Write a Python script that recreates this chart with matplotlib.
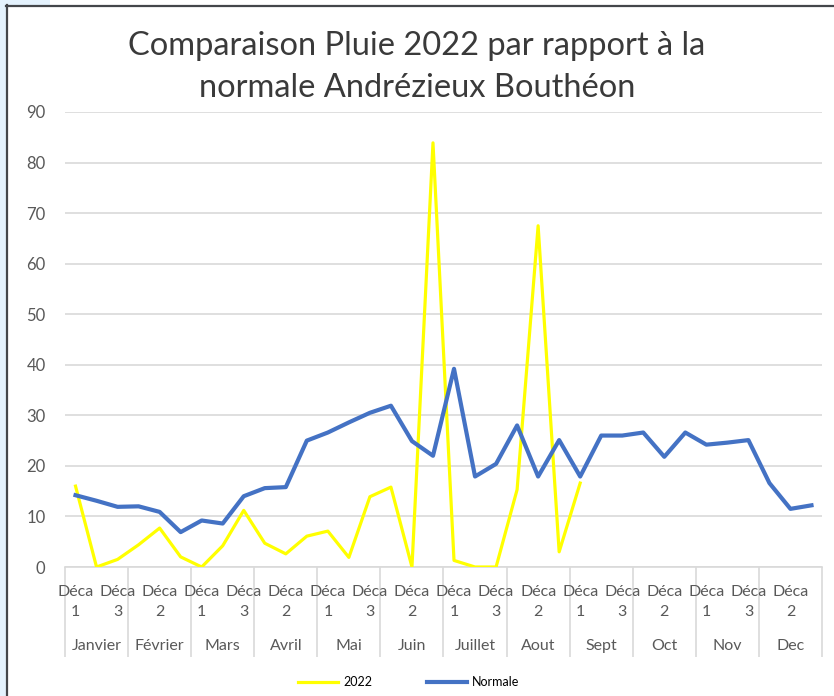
import matplotlib
matplotlib.use("Agg")
import matplotlib.pyplot as plt
from matplotlib.patches import Rectangle
from matplotlib.lines import Line2D
import numpy as np

plt.rcParams['font.family'] = ['Lato', 'DejaVu Sans']

# Data
months = ["Janvier", "Février", "Mars", "Avril", "Mai", "Juin",
          "Juillet", "Aout", "Sept", "Oct", "Nov", "Dec"]
decades = ["1", "2", "3"]

pluie_2022 = [16.0, 0.0, 1.5, 4.4, 7.7, 2.0, 0.0, 4.2, 11.2, 4.7, 2.6, 6.1,
              7.1, 1.9, 13.9, 15.8, 0.0, 83.9, 1.3, 0.0, 0.0, 15.3, 67.5, 3.0,
              16.6, np.nan, np.nan, np.nan, np.nan, np.nan, np.nan, np.nan,
              np.nan, np.nan, np.nan, np.nan]
normale = [14.2, 13.1, 11.9, 12.0, 10.9, 6.9, 9.2, 8.6, 14.0, 15.6, 15.8, 25.0,
           26.6, 28.6, 30.5, 31.9, 24.9, 22.0, 39.2, 17.9, 20.4, 28.0, 17.9, 25.1,
           17.9, 26.0, 26.0, 26.6, 21.8, 26.6, 24.2, 24.6, 25.1, 16.6, 11.5, 12.2]

W, H = 834, 696
fig = plt.figure(figsize=(W / 100, H / 100), dpi=100)
fig.patch.set_facecolor("white")

# screenshot frame: light blue edges and dark border
fig.add_artist(Rectangle((0, 0), 6 / W, 1, transform=fig.transFigure,
                         facecolor="#e4f2fd", edgecolor="none"))
fig.add_artist(Rectangle((0, 1 - 5 / H), 50 / W, 5 / H, transform=fig.transFigure,
                         facecolor="#e4f2fd", edgecolor="none"))
fig.add_artist(Line2D([6.5 / W, 6.5 / W], [0, 1 - 5 / H], transform=fig.transFigure,
                      color="#44464a", lw=1.6))
fig.add_artist(Line2D([6 / W, 1], [1 - 5.5 / H, 1 - 5.5 / H], transform=fig.transFigure,
                      color="#44464a", lw=1.6))

# plot area in pixels
x0, x1, ytop, ybot = 65, 822, 112, 567
ax = fig.add_axes([x0 / W, (H - ybot) / H, (x1 - x0) / W, (ybot - ytop) / H])

x = np.arange(36) + 0.5
ax.plot(x, pluie_2022, color="#FFFF00", lw=2.3, label="2022", zorder=3)
ax.plot(x, normale, color="#4472C4", lw=3.0, label="Normale", zorder=4)

ax.set_xlim(0, 36)
ax.set_ylim(0, 90)
ax.set_yticks(np.arange(0, 91, 10))
ax.grid(axis="y", color="#d9d9d9", lw=1.2)
ax.set_axisbelow(True)
for s in ["top", "right", "left"]:
    ax.spines[s].set_visible(False)
ax.spines["bottom"].set_color("#d9d9d9")
ax.spines["bottom"].set_linewidth(1.2)
ax.tick_params(axis="y", length=0, labelsize=12, labelcolor="#595959", pad=14)

# month separators as long ticks
ax.set_xticks(np.arange(0, 37, 3))
ax.set_xticklabels([])
ax.tick_params(axis="x", length=65, width=1.2, color="#d9d9d9")

# category labels (Excel shows every other decade)
trans = ax.get_xaxis_transform()
h = ybot - ytop
for i in range(0, 36, 2):
    d = decades[i % 3]
    ax.text(x[i], -(592 - ybot) / h, "Déca", transform=trans, ha="center",
            va="center", fontsize=11.5, color="#595959")
    ax.text(x[i], -(612 - ybot) / h, d, transform=trans, ha="center",
            va="center", fontsize=11.5, color="#595959")
for m, name in enumerate(months):
    ax.text(3 * m + 1.5, -(646 - ybot) / h, name, transform=trans, ha="center",
            va="center", fontsize=11.5, color="#595959")

fig.text(0.5, 1 - 46 / H, "Comparaison Pluie 2022 par rapport à la",
         ha="center", va="center", fontsize=23.5, color="#3a3a3a")
fig.text(0.5, 1 - 88 / H, "normale Andrézieux Bouthéon",
         ha="center", va="center", fontsize=23.5, color="#3a3a3a")

fig.legend(loc="center", bbox_to_anchor=(409 / W, 1 - 682 / H), ncol=2,
           frameon=False, fontsize=9, handlelength=3.2, handletextpad=0.4,
           columnspacing=4.4)

fig.savefig("out.png", dpi=100)
